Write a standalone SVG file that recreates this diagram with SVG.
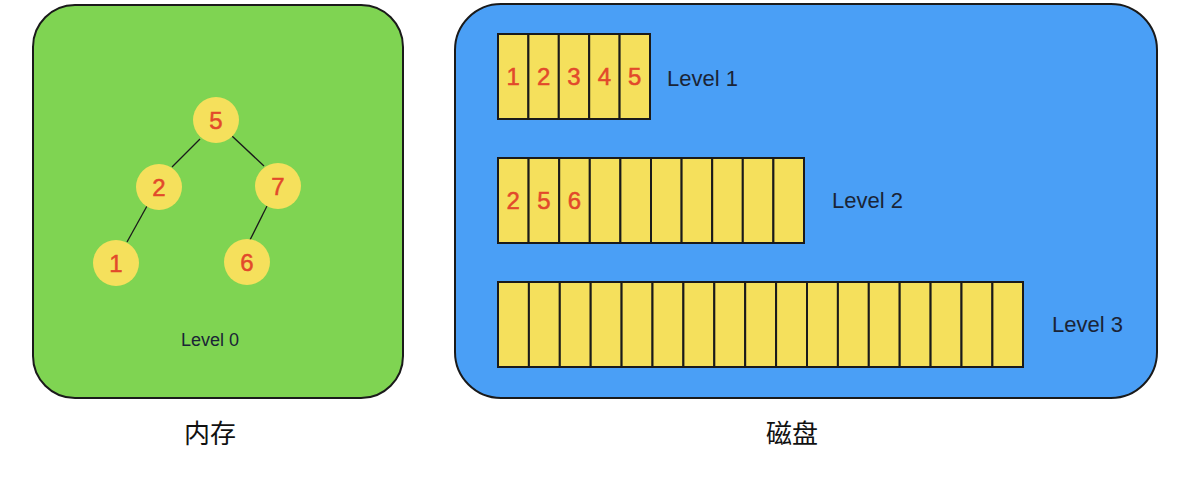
<svg xmlns="http://www.w3.org/2000/svg" width="1183" height="483" viewBox="0 0 1183 483">
<style>
.panel{stroke:#1a1a1a;stroke-width:2}
.cell{fill:#F5E05C;stroke:#1a1a1a;stroke-width:2}
.node{fill:#F5E05C}
.num{font-family:"Liberation Sans",Arial,sans-serif;font-size:24px;fill:#E2492B;stroke:#E2492B;stroke-width:0.5;text-anchor:middle}
.lbl{font-family:"Liberation Sans",Arial,sans-serif;fill:#1a2436}
.cn{font-family:"Noto Sans CJK SC","Liberation Sans",sans-serif;font-size:26px;fill:#111;text-anchor:middle}
.edge{stroke:#1a1a1a;stroke-width:1.3}
</style>
<rect width="1183" height="483" fill="#ffffff"/>
<g id="memory">
<rect class="panel" x="33" y="5" width="370" height="393" rx="42" fill="#7FD452"/>
<text class="lbl" x="210" y="346" font-size="18" text-anchor="middle">Level 0</text>
</g>
<g id="disk">
<rect class="panel" x="455" y="4" width="702" height="394" rx="46" fill="#4A9FF6"/>
</g>
<g id="connectors">
<line class="edge" x1="200" y1="139" x2="172" y2="167"/>
<line class="edge" x1="232" y1="136" x2="264" y2="166"/>
<line class="edge" x1="147" y1="206" x2="127" y2="242"/>
<line class="edge" x1="267" y1="206" x2="250" y2="240"/>
</g>
<g id="node-5"><circle class="node" cx="216" cy="120" r="23"/><text class="num" x="216" y="129">5</text></g>
<g id="node-2"><circle class="node" cx="159" cy="187" r="23"/><text class="num" x="159" y="196">2</text></g>
<g id="node-7"><circle class="node" cx="278" cy="186" r="23"/><text class="num" x="278" y="195">7</text></g>
<g id="node-1"><circle class="node" cx="116" cy="263" r="23"/><text class="num" x="116" y="272">1</text></g>
<g id="node-6"><circle class="node" cx="247" cy="262" r="23"/><text class="num" x="247" y="271">6</text></g>
<g id="level-1">
<rect class="cell" x="498" y="34" width="30.4" height="85"/>
<rect class="cell" x="528.4" y="34" width="30.4" height="85"/>
<rect class="cell" x="558.8" y="34" width="30.4" height="85"/>
<rect class="cell" x="589.2" y="34" width="30.4" height="85"/>
<rect class="cell" x="619.6" y="34" width="30.4" height="85"/>
<text class="num" x="513.2" y="85">1</text>
<text class="num" x="543.6" y="85">2</text>
<text class="num" x="574" y="85">3</text>
<text class="num" x="604.4" y="85">4</text>
<text class="num" x="634.8" y="85">5</text>
<text class="lbl" x="667" y="86" font-size="22">Level 1</text>
</g>
<g id="level-2">
<rect class="cell" x="498" y="158" width="30.6" height="85"/>
<rect class="cell" x="528.6" y="158" width="30.6" height="85"/>
<rect class="cell" x="559.2" y="158" width="30.6" height="85"/>
<rect class="cell" x="589.8" y="158" width="30.6" height="85"/>
<rect class="cell" x="620.4" y="158" width="30.6" height="85"/>
<rect class="cell" x="651" y="158" width="30.6" height="85"/>
<rect class="cell" x="681.6" y="158" width="30.6" height="85"/>
<rect class="cell" x="712.2" y="158" width="30.6" height="85"/>
<rect class="cell" x="742.8" y="158" width="30.6" height="85"/>
<rect class="cell" x="773.4" y="158" width="30.6" height="85"/>
<text class="num" x="513.3" y="209">2</text>
<text class="num" x="543.9" y="209">5</text>
<text class="num" x="574.5" y="209">6</text>
<text class="lbl" x="832" y="208" font-size="22">Level 2</text>
</g>
<g id="level-3">
<rect class="cell" x="498" y="282" width="30.9" height="85"/>
<rect class="cell" x="528.9" y="282" width="30.9" height="85"/>
<rect class="cell" x="559.8" y="282" width="30.9" height="85"/>
<rect class="cell" x="590.7" y="282" width="30.9" height="85"/>
<rect class="cell" x="621.6" y="282" width="30.9" height="85"/>
<rect class="cell" x="652.5" y="282" width="30.9" height="85"/>
<rect class="cell" x="683.4" y="282" width="30.9" height="85"/>
<rect class="cell" x="714.3" y="282" width="30.9" height="85"/>
<rect class="cell" x="745.2" y="282" width="30.9" height="85"/>
<rect class="cell" x="776.1" y="282" width="30.9" height="85"/>
<rect class="cell" x="807" y="282" width="30.9" height="85"/>
<rect class="cell" x="837.9" y="282" width="30.9" height="85"/>
<rect class="cell" x="868.8" y="282" width="30.9" height="85"/>
<rect class="cell" x="899.7" y="282" width="30.9" height="85"/>
<rect class="cell" x="930.6" y="282" width="30.9" height="85"/>
<rect class="cell" x="961.5" y="282" width="30.9" height="85"/>
<rect class="cell" x="992.4" y="282" width="30.6" height="85"/>
<text class="lbl" x="1052" y="332" font-size="22">Level 3</text>
</g>
<g id="label-memory"><text class="cn" x="210" y="443">内存</text></g>
<g id="label-disk"><text class="cn" x="792" y="443">磁盘</text></g>
</svg>
